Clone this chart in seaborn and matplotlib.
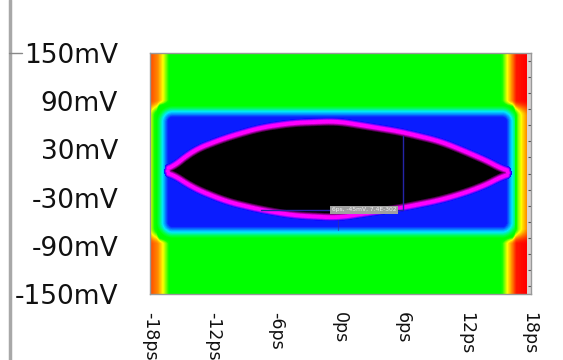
import numpy as np
import matplotlib
matplotlib.use("Agg")
import matplotlib.pyplot as plt
import seaborn as sns
from matplotlib.colors import LinearSegmentedColormap
from matplotlib.lines import Line2D

# eye contour (centre of the magenta ring): ps / mV
eye_t = [-16.3, -13.9, -10.7, -7.5, -4.4, -0.2, 5.8, 9.6, 12.4, 14.8, 16.0]
eye_top_mv = [3, 29, 45, 57, 63, 65, 52, 40, 25, 11, 1]
eye_bottom_mv = [3, -18, -35, -45, -52, -55, -43, -33, -22, -9, 1]

# blue region around the eye and where the data stops
box_t = [-16.8, 16.4]
box_mv = [-73, 77]
edge_t = [-18.0, 17.85]

x_ticks_ps = [-18, -12, -6, 0, 6, 12, 18]
x_labels = [f"{t}ps" for t in x_ticks_ps]
y_ticks_mv = [150, 90, 30, -30, -90, -150]
y_labels = [f"{v}mV" for v in y_ticks_mv]

cursor_ps, cursor_mv = 6, -45
cursor_top_mv = 47
cursor_text = "6ps, -45mV, 7.4E-302"

# grid, about one cell per pixel
t_lo, t_hi = -18.0, 18.2
v_lo, v_hi = -150, 150
nx, ny = 381, 241
dt = (t_hi - t_lo) / nx
dv = (v_hi - v_lo) / ny
t = t_lo + dt * (np.arange(nx) + 0.5)
v = v_hi - dv * (np.arange(ny) + 0.5)
T, V = np.meshgrid(t, v)
kt, kv = 1 / dt, 1 / dv  # px per ps, px per mV

# contour through the read points, lightly smoothed so the ring has no kinks
fine_t = np.linspace(eye_t[0], eye_t[-1], 400)


def smooth(y, w=31):
    pad = np.pad(y, w // 2, mode="edge")
    out = np.convolve(pad, np.ones(w) / w, mode="valid")
    out[0], out[-1] = y[0], y[-1]
    return out


fine_top = smooth(np.interp(fine_t, eye_t, eye_top_mv))
fine_bot = smooth(np.interp(fine_t, eye_t, eye_bottom_mv))

# signed distance to the eye contour (px, positive inside)
bx = np.concatenate([fine_t, fine_t]) * kt
by = np.concatenate([fine_top, fine_bot]) * kv
d = np.empty_like(T)
for i in range(ny):
    ddx = T[i][:, None] * kt - bx[None, :]
    ddy = V[i][:, None] * kv - by[None, :]
    d[i] = np.sqrt(ddx ** 2 + ddy ** 2).min(axis=1)
inside = ((T > eye_t[0]) & (T < eye_t[-1])
          & (V < np.interp(T, fine_t, fine_top))
          & (V > np.interp(T, fine_t, fine_bot)))
d = np.where(inside, d, -d)
z_eye = np.interp(-d, [-4.5, -1.4, 1.4, 4.0, 6.5], [0.06, 0.2, 0.2, 0.31, 2.0])

# rounded box
cx = (box_t[0] + box_t[1]) / 2 * kt
cy = (box_mv[0] + box_mv[1]) / 2 * kv
hx = (box_t[1] - box_t[0]) / 2 * kt
hy = (box_mv[1] - box_mv[0]) / 2 * kv
r = 10
qx = np.abs(T * kt - cx) - (hx - r)
qy = np.abs(V * kv - cy) - (hy - r)
box_d = (np.hypot(np.maximum(qx, 0), np.maximum(qy, 0))
         + np.minimum(np.maximum(qx, qy), 0) - r)
z_box = np.interp(box_d, [-7, 0, 6], [0.4, 0.49, 0.6])

# left / right edges
dl = (T - edge_t[0]) * kt
dr = (edge_t[1] - T) * kt
s = np.clip((np.abs(V - 2) - 70) / 20, 0, 1)
s = s * s * (3 - 2 * s)
zl = (s * np.interp(dl, [0, 8, 13, 19, 24], [0.93, 0.87, 0.78, 0.65, 0.0])
      + (1 - s) * np.interp(dl, [0, 3, 7, 10], [0.78, 0.7, 0.6, 0.2]))
zr = (s * np.interp(dr, [0, 11, 15, 20, 26, 31], [1.0, 0.98, 0.88, 0.78, 0.64, 0.0])
      + (1 - s) * np.interp(dr, [0, 5, 9, 12, 15], [0.88, 0.8, 0.72, 0.62, 0.3]))
z = np.minimum(np.maximum(z_box, np.maximum(zl, zr)), z_eye)
z[:, t > edge_t[1]] = np.nan

cmap = LinearSegmentedColormap.from_list("ber", [
    (0.0, "#000000"), (0.06, "#000000"), (0.2, "#ff00ff"), (0.3, "#0a0aff"),
    (0.42, "#0a20ff"), (0.49, "#00e8ff"), (0.56, "#00ff40"), (0.6, "#00ff00"),
    (0.66, "#10ff00"), (0.78, "#ffff00"), (0.88, "#ff8000"), (1.0, "#ff0000")])

sns.set_style("white")
plt.rcParams["font.family"] = ["DejaVu Sans"]

fig = plt.figure(figsize=(5.63, 3.6), dpi=100)
ax = fig.add_axes([150 / 563, 66 / 360, 381 / 563, 241 / 360])
ax.set_facecolor("#d9d4d4")
sns.heatmap(z, cmap=cmap, vmin=0, vmax=1, cbar=False, ax=ax,
            xticklabels=False, yticklabels=False)


def tx(tt):
    return (tt - t_lo) / dt


def vy(vv):
    return (v_hi - vv) / dv


ax.set_xticks([tx(tt) for tt in x_ticks_ps])
ax.set_xticklabels(x_labels, rotation=-90, ha="center", va="top", fontsize=12.5)
ax.set_yticks([vy(vv) for vv in y_ticks_mv])
ax.set_yticklabels(y_labels, rotation=0, fontsize=19)
ax.set_yticks([vy(vv) for vv in range(-140, 150, 20)], minor=True)
ax.tick_params(axis="x", length=0, pad=13, colors="#111111")
ax.tick_params(axis="y", which="major", length=0, pad=23, colors="#111111")
ax.tick_params(axis="y", which="minor", length=2, width=0.8, direction="in",
               left=True, right=True, color="#555555")
for sp in ax.spines.values():
    sp.set_visible(True)
    sp.set_color("#999999")
    sp.set_linewidth(1)

# cursor
ax.plot([tx(cursor_ps)] * 2, [vy(cursor_mv), vy(cursor_top_mv)],
        color="#2424a8", lw=1)
ax.plot([tx(-7.5), tx(cursor_ps)], [vy(cursor_mv)] * 2, color="#2424a8", lw=1)
ax.plot([tx(-0.1)] * 2, [vy(-58), vy(-70)], color="#3030a0", lw=0.8, alpha=0.6)
ax.text(tx(5.4), vy(cursor_mv), cursor_text, fontsize=4.3, color="#f2f2f2",
        ha="right", va="center",
        bbox=dict(boxstyle="square,pad=0.25", fc="#a0a0a0", ec="none"))

# panel border on the left
fig.add_artist(Line2D([9.5 / 563] * 2, [0, 1], transform=fig.transFigure,
                      color="#a8a8a8", lw=2.5))
fig.add_artist(Line2D([9 / 563, 22 / 563], [1 - 53 / 360] * 2,
                      transform=fig.transFigure, color="#888888", lw=1))

fig.savefig("out.png", dpi=100)
